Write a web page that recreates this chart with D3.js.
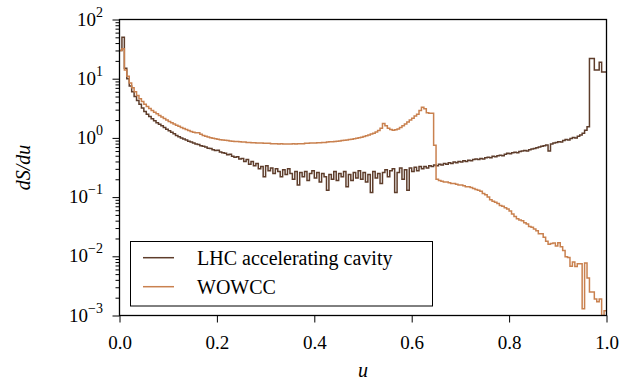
<!DOCTYPE html>
<html>
<head>
<meta charset="utf-8">
<script src="https://cdn.jsdelivr.net/npm/d3@7"></script>
<style>
  body { margin: 0; background: #fff; }
  svg { display: block; }
</style>
</head>
<body>
<svg id="chart" width="641" height="381"></svg>
<script>
const FONT = "'Liberation Serif', Tinos, 'Times New Roman', Times, 'Noto Serif', 'DejaVu Serif', serif";
const FS = 19;

// series names (legend order)
const seriesNames = ["LHC accelerating cavity", "WOWCC"];

// 200 bins of width 0.005 on u = [0, 1]
const lhcValues = [
  30, 50, 15, 10, 7.5, 6, 5, 4.3, 3.7, 3.2,
  2.8, 2.5, 2.3, 2.1, 1.95, 1.8, 1.7, 1.6, 1.5, 1.4,
  1.32, 1.25, 1.18, 1.1, 1.05, 1.0, 0.96, 0.92, 0.88, 0.85,
  0.82, 0.79, 0.77, 0.74, 0.72, 0.7, 0.67, 0.66, 0.63, 0.61,
  0.62, 0.58, 0.56, 0.55, 0.52, 0.53, 0.49, 0.47, 0.48, 0.44,
  0.45, 0.40, 0.43, 0.36, 0.40, 0.34, 0.37, 0.30, 0.33, 0.22,
  0.34, 0.28, 0.31, 0.25, 0.30, 0.27, 0.22, 0.29, 0.24, 0.30,
  0.25, 0.20, 0.27, 0.16, 0.26, 0.22, 0.27, 0.19, 0.25, 0.28,
  0.21, 0.26, 0.18, 0.25, 0.22, 0.13, 0.24, 0.20, 0.27, 0.19,
  0.25, 0.22, 0.27, 0.15, 0.24, 0.19, 0.26, 0.21, 0.28, 0.20,
  0.26, 0.18, 0.24, 0.12, 0.27, 0.21, 0.25, 0.17, 0.26, 0.29,
  0.22, 0.28, 0.30, 0.12, 0.26, 0.31, 0.20, 0.29, 0.13, 0.31,
  0.27, 0.32, 0.28, 0.33, 0.30, 0.33, 0.31, 0.34, 0.33, 0.35,
  0.34, 0.36, 0.35, 0.37, 0.36, 0.38, 0.37, 0.39, 0.38, 0.40,
  0.39, 0.41, 0.40, 0.42, 0.41, 0.43, 0.44, 0.43, 0.45, 0.44,
  0.46, 0.47, 0.46, 0.49, 0.48, 0.50, 0.51, 0.50, 0.53, 0.55,
  0.54, 0.56, 0.57, 0.56, 0.59, 0.60, 0.61, 0.60, 0.63, 0.65,
  0.66, 0.68, 0.70, 0.72, 0.74, 0.76, 0.60, 0.79, 0.82, 0.84,
  0.86, 0.85, 0.90, 0.94, 0.92, 0.98, 1.02, 1.0, 1.07, 1.12,
  1.2, 1.35, 1.55, 22, 22, 14, 14, 19, 13, 13
];

const wowccValues = [
  30, 32, 14, 11, 8.5, 7, 6, 5.2, 4.6, 4.1,
  3.7, 3.4, 3.15, 2.9, 2.7, 2.55, 2.4, 2.25, 2.12, 2.0,
  1.9, 1.8, 1.72, 1.64, 1.57, 1.5, 1.44, 1.38, 1.33, 1.28,
  1.24, 1.22, 1.22, 1.15, 1.1, 1.07, 1.04, 1.01, 0.99, 0.97,
  0.95, 0.93, 0.92, 0.91, 0.9, 0.89, 0.88, 0.87, 0.87, 0.86,
  0.85, 0.85, 0.84, 0.84, 0.83, 0.83, 0.82, 0.82, 0.82, 0.81,
  0.81, 0.81, 0.8, 0.8, 0.8, 0.79, 0.8, 0.79, 0.79, 0.79,
  0.79, 0.8, 0.79, 0.8, 0.8, 0.8, 0.81, 0.81, 0.82, 0.82,
  0.82, 0.83, 0.83, 0.84, 0.84, 0.85, 0.86, 0.86, 0.87, 0.88,
  0.89, 0.9, 0.91, 0.92, 0.94, 0.95, 0.97, 0.99, 1.01, 1.03,
  1.06, 1.09, 1.12, 1.16, 1.2, 1.26, 1.34, 1.45, 1.75, 1.6,
  1.45, 1.38, 1.35, 1.37, 1.42, 1.5, 1.6, 1.72, 1.85, 2.0,
  2.15, 2.35, 2.5, 2.9, 3.3, 3.1, 2.65, 2.6, 2.6, 0.75,
  0.2, 0.19, 0.185, 0.18, 0.18, 0.175, 0.17, 0.17, 0.165, 0.16,
  0.16, 0.155, 0.15, 0.15, 0.145, 0.14, 0.135, 0.13, 0.125, 0.115,
  0.11, 0.1, 0.09, 0.085, 0.082, 0.078, 0.072, 0.07, 0.066, 0.063,
  0.058, 0.052, 0.047, 0.043, 0.041, 0.04, 0.037, 0.035, 0.032, 0.031,
  0.029, 0.027, 0.024, 0.024, 0.021, 0.018, 0.016, 0.0165, 0.0168, 0.015,
  0.017, 0.0145, 0.0125, 0.0098, 0.0095, 0.0068, 0.008, 0.0067, 0.0075, 0.0075,
  0.0013, 0.0077, 0.0043, 0.0025, 0.0025, 0.0019, 0.0017, 0.0019, 0.001, 0.0012
];

// tick labels
const xTicks = [0, 0.2, 0.4, 0.6, 0.8, 1.0];
const yTickExps = [-3, -2, -1, 0, 1, 2];

const colors = ["#5e3d2b", "#c9814f"];

const svg = d3.select("#chart");
const margin = {left: 119.5, right: 606.5, top: 19.5, bottom: 315.5};

const x = d3.scaleLinear().domain([0, 1]).range([margin.left, margin.right]);
const y = d3.scaleLog().domain([1e-3, 1e2]).range([margin.bottom, margin.top]);

svg.append("clipPath").attr("id", "plotclip")
  .append("rect")
  .attr("x", margin.left).attr("y", margin.top)
  .attr("width", margin.right - margin.left)
  .attr("height", margin.bottom - margin.top);

// step outline
const stepPoints = vals => {
  const n = vals.length;
  const pts = vals.map((v, i) => [i / n, v]);
  pts.push([1, vals[n - 1]]);
  return pts;
};
const line = d3.line()
  .x(d => x(d[0]))
  .y(d => y(Math.max(d[1], 1e-4)))
  .curve(d3.curveStepAfter);

const plot = svg.append("g").attr("clip-path", "url(#plotclip)");
[lhcValues, wowccValues].forEach((vals, i) => {
  plot.append("path")
    .attr("d", line(stepPoints(vals)))
    .attr("fill", "none")
    .attr("stroke", colors[i])
    .attr("stroke-width", 1.5)
    .attr("stroke-linejoin", "miter");
});

// y axis: major + minor ticks
const majors = yTickExps.map(e => Math.pow(10, e));
const minors = [];
for (let e = -3; e < 2; e++)
  for (let k = 2; k <= 9; k++) minors.push(k * Math.pow(10, e));

const yAx = svg.append("g").attr("transform", `translate(${margin.left},0)`)
  .call(d3.axisLeft(y).tickValues(majors).tickSize(7).tickFormat(""));
const yAxMinor = svg.append("g").attr("transform", `translate(${margin.left},0)`)
  .call(d3.axisLeft(y).tickValues(minors).tickSize(4).tickFormat(""));
[yAx, yAxMinor].forEach(g => {
  g.select(".domain").remove();
  g.selectAll("line").attr("stroke", "#000").attr("stroke-width", 1);
});

const yLab = svg.append("g");
yTickExps.forEach(e => {
  const t = yLab.append("text")
    .attr("x", 103)
    .attr("y", y(Math.pow(10, e)) + 6)
    .attr("text-anchor", "end")
    .style("font-family", FONT)
    .style("font-size", FS + "px");
  t.append("tspan").text("10");
  t.append("tspan")
    .attr("dy", -9)
    .style("font-size", "14px")
    .text(e < 0 ? "\u2212" + (-e) : String(e));
});

// x axis
const xAx = svg.append("g").attr("transform", `translate(0,${margin.bottom})`)
  .call(d3.axisBottom(x).tickValues(xTicks).tickSize(7).tickPadding(13).tickFormat(d3.format(".1f")));
xAx.select(".domain").remove();
xAx.selectAll("line").attr("stroke", "#000").attr("stroke-width", 1);
xAx.selectAll("text")
  .style("font-size", FS + "px")
  .style("font-family", FONT)
  .attr("fill", "#000");

// frame
svg.append("rect")
  .attr("x", margin.left).attr("y", margin.top)
  .attr("width", margin.right - margin.left)
  .attr("height", margin.bottom - margin.top)
  .attr("fill", "none")
  .attr("stroke", "#000")
  .attr("stroke-width", 1.3);

// axis titles
svg.append("text")
  .attr("transform", "translate(30,167.5) rotate(-90)")
  .attr("text-anchor", "middle")
  .style("font-family", FONT)
  .style("font-size", "20px")
  .style("font-style", "italic")
  .text("dS/du");

svg.append("text")
  .attr("x", (margin.left + margin.right) / 2)
  .attr("y", 377)
  .attr("text-anchor", "middle")
  .style("font-family", FONT)
  .style("font-size", "20px")
  .style("font-style", "italic")
  .text("u");

// legend
const legend = svg.append("g");
legend.append("rect")
  .attr("x", 130.5).attr("y", 241.5)
  .attr("width", 302).attr("height", 64.5)
  .attr("fill", "#fff")
  .attr("stroke", "#000")
  .attr("stroke-width", 1);
seriesNames.forEach((name, i) => {
  const ly = 257.7 + i * 29;
  legend.append("line")
    .attr("x1", 143).attr("x2", 174)
    .attr("y1", ly).attr("y2", ly)
    .attr("stroke", colors[i])
    .attr("stroke-width", 1.5);
  legend.append("text")
    .attr("x", 197)
    .attr("y", ly + 7)
    .style("font-family", FONT)
    .style("font-size", "20px")
    .text(name);
});
</script>
</body>
</html>
